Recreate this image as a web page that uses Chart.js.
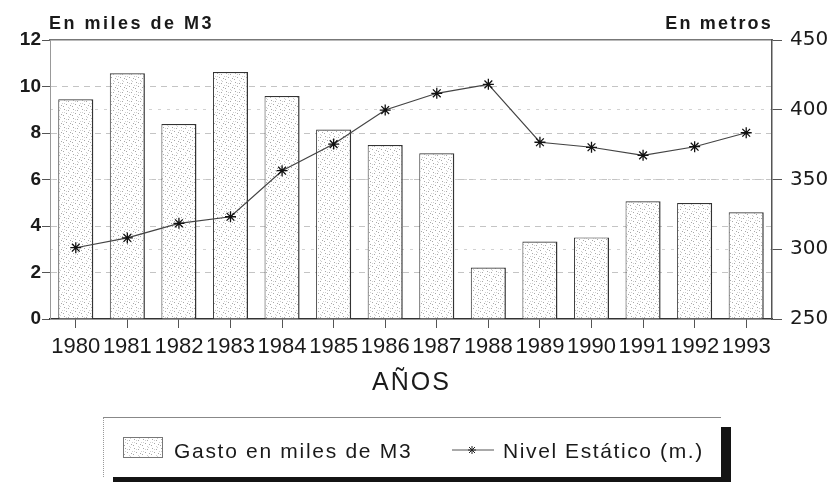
<!DOCTYPE html>
<html>
<head>
<meta charset="utf-8">
<script src="https://cdn.jsdelivr.net/npm/chart.js@4/dist/chart.umd.min.js"></script>
<style>
  html, body { margin: 0; padding: 0; background: #fff; }
  #wrap { position: relative; width: 833px; height: 482px; overflow: hidden; font-family: "Liberation Sans", Arial, sans-serif; color: #1a1a1a; }
  #myChart { position: absolute; left: 0; top: 0; }
  .lbl { position: absolute; line-height: 1; white-space: nowrap; }
  #legend { position: absolute; left: 103px; top: 417px; width: 617px; height: 59px; background: #fff;
            border-top: 1px solid #888; border-left: 1px dotted #999; box-shadow: 10px 10px 0 #141414; }
</style>
</head>
<body>
<div id="wrap">
  <canvas id="myChart" width="833" height="482"></canvas>
  <div class="lbl" style="left:49px;top:14px;font-size:18px;font-weight:bold;letter-spacing:2.5px;">En miles de M3</div>
  <div class="lbl" style="right:60px;top:14px;font-size:18px;font-weight:bold;letter-spacing:2.2px;">En metros</div>
  <div class="lbl" style="left:372px;top:369px;font-size:25px;letter-spacing:2px;">AÑOS</div>
  <div id="legend"></div>
  <div id="swatch" style="position:absolute;left:123px;top:437px;width:38px;height:19px;border:1px solid #777;"></div>
  <div class="lbl" style="left:174px;top:440px;font-size:21px;letter-spacing:1.7px;">Gasto en miles de M3</div>
  <svg style="position:absolute;left:450px;top:442px" width="46" height="16">
    <line x1="2" y1="8" x2="44" y2="8" stroke="#555" stroke-width="1"/>
    <g stroke="#222" stroke-width="1">
      <line x1="22" y1="4" x2="22" y2="12"/><line x1="18" y1="8" x2="26" y2="8"/>
      <line x1="19" y1="5" x2="25" y2="11"/><line x1="25" y1="5" x2="19" y2="11"/>
    </g>
  </svg>
  <div class="lbl" style="left:503px;top:440px;font-size:21px;letter-spacing:1.6px;">Nivel Estático (m.)</div>
</div>
<script>
// datos
const years = ['1980', '1981', '1982', '1983', '1984', '1985', '1986', '1987', '1988', '1989', '1990', '1991', '1992', '1993'];
const gasto = [9.45, 10.57, 8.39, 10.62, 9.59, 8.15, 7.48, 7.13, 2.21, 3.33, 3.51, 5.06, 4.99, 4.59];
const nivel = [301.1, 308.1, 318.6, 323.3, 356.3, 375.4, 399.8, 411.8, 418.2, 376.7, 373.1, 367.3, 373.5, 383.5];
const gastoTicks = [0, 2, 4, 6, 8, 10, 12];
const nivelTicks = [250, 300, 350, 400, 450];

// trama de puntos para las barras
const tile = document.createElement('canvas');
tile.width = 9;
tile.height = 9;
const tctx = tile.getContext('2d');
tctx.fillStyle = '#fff';
tctx.fillRect(0, 0, 9, 9);
tctx.fillStyle = '#a8a8a8';
[[1, 1], [5, 2], [3, 5], [7, 6], [0, 7]].forEach(p => tctx.fillRect(p[0], p[1], 1, 1));
tctx.fillStyle = '#d0d0d0';
[[3, 2], [8, 4], [1, 4], [5, 8], [6, 0]].forEach(p => tctx.fillRect(p[0], p[1], 1, 1));
document.getElementById('swatch').style.background = 'url(' + tile.toDataURL() + ')';

const ctx = document.getElementById('myChart');
const pattern = ctx.getContext('2d').createPattern(tile, 'repeat');

new Chart(ctx, {
  data: {
    labels: years,
    datasets: [
      {
        type: 'line',
        label: 'Nivel Estático (m.)',
        data: nivel,
        yAxisID: 'y1',
        borderColor: '#444',
        borderWidth: 1.2,
        pointStyle: 'star',
        pointRadius: 5.5,
        pointBorderWidth: 1.3,
        pointBorderColor: '#111',
        pointBackgroundColor: '#111',
        tension: 0,
        order: 0,
      },
      {
        type: 'bar',
        label: 'Gasto en miles de M3',
        data: gasto,
        yAxisID: 'y',
        backgroundColor: pattern,
        borderColor: '#333',
        borderWidth: { top: 1.2, left: 1, right: 1.5, bottom: 0 },
        borderSkipped: 'bottom',
        barPercentage: 0.68,
        categoryPercentage: 1.0,
        order: 1,
      },
    ],
  },
  options: {
    responsive: false,
    animation: false,
    devicePixelRatio: 1,
    layout: { padding: { top: 40, left: 0, right: 0, bottom: 123 } },
    plugins: { legend: { display: false }, tooltip: { enabled: false } },
    scales: {
      x: {
        position: 'bottom',
        offset: true,
        grid: { offset: false, drawOnChartArea: false, tickLength: 9, tickColor: '#555' },
        border: { color: '#333', width: 1.5 },
        ticks: { color: '#1a1a1a', font: { family: 'Liberation Sans', size: 22 }, padding: 6, maxRotation: 0, autoSkip: false },
        afterFit: (s) => { s.height = 40; },
      },
      xTop: {
        type: 'category',
        position: 'top',
        grid: { display: false },
        ticks: { display: false },
        border: { color: '#777', width: 1.5 },
        afterFit: (s) => { s.height = 0; },
      },
      y: {
        position: 'left',
        min: 0,
        max: 12,
        afterBuildTicks: (s) => { s.ticks = gastoTicks.map(v => ({ value: v })); },
        grid: {
          color: (c) => (c.tick && (c.tick.value === 0 || c.tick.value === 12)) ? 'rgba(0,0,0,0)' : '#c4c4c4',
          tickLength: 8,
          tickColor: '#555',
        },
        border: { color: '#999', width: 1, dash: [6, 5] },
        ticks: { color: '#1a1a1a', font: { family: 'Liberation Sans', size: 19, weight: 'bold' }, padding: 1 },
        afterFit: (s) => { s.width = 50; },
      },
      y1: {
        position: 'right',
        min: 250,
        max: 450,
        afterBuildTicks: (s) => { s.ticks = nivelTicks.map(v => ({ value: v })); },
        grid: {
          color: (c) => (c.tick && (c.tick.value === 250 || c.tick.value === 450)) ? 'rgba(0,0,0,0)' : '#d2d2d2',
          tickLength: 10,
          tickColor: '#555',
        },
        border: { color: '#555', width: 1.5, dash: [3, 6] },
        ticks: { color: '#1a1a1a', font: { family: 'DejaVu Sans', size: 20 }, padding: 8 },
        afterFit: (s) => { s.width = 61; },
      },
    },
  },
});
</script>
</body>
</html>
